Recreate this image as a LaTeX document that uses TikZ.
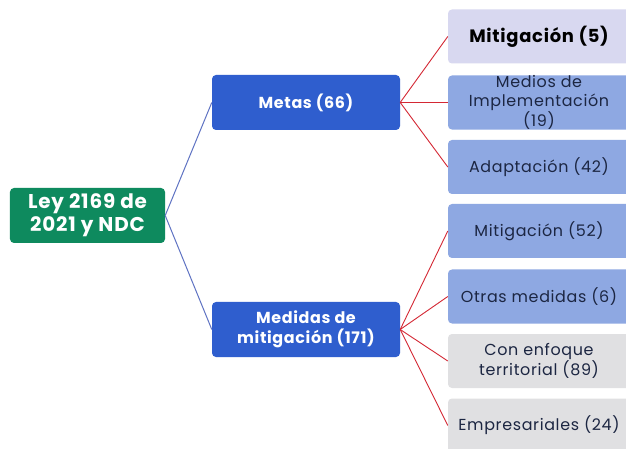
\documentclass[tikz,border=0pt]{standalone}
\usepackage{fontspec}
\setmainfont{Poppins}[LetterSpace=4]
\definecolor{rootgreen}{RGB}{14,138,94}
\definecolor{midblue}{RGB}{47,94,206}
\definecolor{leafblue}{RGB}{142,168,226}
\definecolor{leaftext}{RGB}{28,38,66}
\definecolor{bluelink}{RGB}{95,115,195}
\definecolor{redlink}{RGB}{212,40,52}
\definecolor{pastel}{RGB}{216,216,240}
\definecolor{marble}{RGB}{224,224,226}
\begin{document}
\begin{tikzpicture}[x=1bp,y=-1bp,
  box/.style={rounded corners=4bp, align=center, inner sep=0pt},
  rootbox/.style={box, fill=rootgreen, text=white, font=\fontsize{20}{23}\selectfont\bfseries, minimum width=155bp, minimum height=55bp},
  midbox/.style={box, fill=midblue, text=white, font=\fontsize{16}{20}\selectfont\bfseries, minimum width=188bp, minimum height=55bp},
  leafbox/.style={box, fill=leafblue, text=leaftext, font=\fontsize{16}{19}\selectfont, minimum width=182bp, minimum height=54bp},
  bluelinkstyle/.style={draw=bluelink, line width=1bp},
  redlinkstyle/.style={draw=redlink, line width=0.9bp}
]
\useasboundingbox (0,0) rectangle (626,449);
\fill[white] (0,0) rectangle (626,449);
\begin{scope}
\clip (0,0) rectangle (626,449);
\node[rootbox] (root) at (87.5,215.5) {Ley 2169 de\\2021 y NDC};
\node[midbox] (metas) at (306,102.5) {Metas (66)};
\node[midbox] (medidas) at (306,329.5) {Medidas de\\mitigación (171)};

\node[leafbox, fill=pastel, text=black, font=\fontsize{18}{20}\selectfont\bfseries] (l1) at (539,36.5) {Mitigación (5)};
\node[leafbox] (l2) at (539,102.5) {Medios de\\Implementación\\(19)};
\node[leafbox] (l3) at (539,167) {Adaptación (42)};
\node[leafbox] (l4) at (539,231) {Mitigación (52)};
\node[leafbox] (l5) at (539,296.5) {Otras medidas (6)};
\node[leafbox, fill=marble] (l6) at (539,361) {Con enfoque\\territorial (89)};
\node[leafbox, fill=marble] (l7) at (539,425.5) {Empresariales (24)};

\draw[bluelinkstyle] (root.east) -- (metas.west);
\draw[bluelinkstyle] (root.east) -- (medidas.west);
\foreach \n in {l1,l2,l3} \draw[redlinkstyle] (metas.east) -- (\n.west);
\foreach \n in {l4,l5,l6,l7} \draw[redlinkstyle] (medidas.east) -- (\n.west);
\end{scope}
\end{tikzpicture}
\end{document}
